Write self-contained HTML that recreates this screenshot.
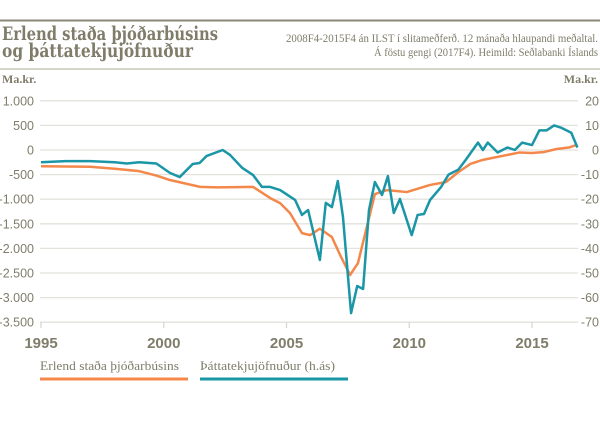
<!DOCTYPE html>
<html><head><meta charset="utf-8"><style>
body{margin:0;background:#fff;}
svg{display:block;font-family:"Liberation Sans",sans-serif;}
</style></head><body>
<svg id="c" width="600" height="437" viewBox="0 0 600 437">
<line x1="0" y1="20.5" x2="600" y2="20.5" stroke="#8a8878" stroke-width="2"/>
<text x="2" y="40" font-family="DejaVu Serif,serif" font-weight="bold" font-size="19" fill="#7f7d6a" textLength="216" lengthAdjust="spacingAndGlyphs">Erlend staða þjóðarbúsins</text>
<text x="2" y="57" font-family="DejaVu Serif,serif" font-weight="bold" font-size="19" fill="#7f7d6a" textLength="191" lengthAdjust="spacingAndGlyphs">og þáttatekjujöfnuður</text>
<text x="598" y="42" text-anchor="end" font-family="Liberation Serif,serif" font-size="11.5" fill="#7f7d6a" textLength="312" lengthAdjust="spacingAndGlyphs">2008F4-2015F4 án ILST í slitameðferð. 12 mánaða hlaupandi meðaltal.</text>
<text x="598" y="56" text-anchor="end" font-family="Liberation Serif,serif" font-size="11.5" fill="#7f7d6a" textLength="224" lengthAdjust="spacingAndGlyphs">Á föstu gengi (2017F4). Heimild: Seðlabanki Íslands</text>
<line x1="0" y1="69" x2="600" y2="69" stroke="#c9c7bb" stroke-width="1.5"/>
<text x="2" y="83" font-family="Liberation Serif,serif" font-weight="bold" font-size="12" fill="#7f7d6a">Ma.kr.</text>
<text x="598" y="83" text-anchor="end" font-family="Liberation Serif,serif" font-weight="bold" font-size="12" fill="#7f7d6a">Ma.kr.</text>
<g id="grid"></g><g id="series"></g>
<line x1="40" y1="379" x2="188" y2="379" stroke="#f4884b" stroke-width="3"/>
<text x="40" y="370" font-family="Liberation Serif,serif" font-size="12.5" fill="#7f7d6a" textLength="139" lengthAdjust="spacingAndGlyphs">Erlend staða þjóðarbúsins</text>
<line x1="200" y1="379" x2="348" y2="379" stroke="#1a96a6" stroke-width="3"/>
<text x="200" y="370" font-family="Liberation Serif,serif" font-size="12.5" fill="#7f7d6a" textLength="135" lengthAdjust="spacingAndGlyphs">Þáttatekjujöfnuður (h.ás)</text>
</svg>
<script>
const leftTicks=[1000,500,0,-500,-1000,-1500,-2000,-2500,-3000,-3500];
const leftLabels=["1.000","500","0","-500","-1.000","-1.500","-2.000","-2.500","-3.000","-3.500"];
const rightLabels=["20","10","0","-10","-20","-30","-40","-50","-60","-70"];
const xTicks=[1995,2000,2005,2010,2015];
const posYears=[1995,1997,1998,1999,1999.7,2000.25,2001.48,2002.2,2003.64,2004.33,2004.74,2005.14,2005.63,2005.96,2006.36,2006.85,2007.18,2007.59,2007.91,2008.6,2009.09,2009.9,2010.85,2011.5,2012,2012.5,2013,2013.5,2014,2014.5,2015,2015.5,2016,2016.5,2016.8];
const posValues=[-330,-340,-380,-430,-520,-610,-750,-760,-750,-975,-1080,-1280,-1690,-1730,-1600,-1770,-2130,-2540,-2300,-895,-815,-855,-710,-650,-450,-280,-200,-150,-100,-50,-60,-40,20,50,100];
const incYears=[1995,1996,1997,1998,1998.5,1999,1999.7,2000.25,2000.65,2001.18,2001.46,2001.75,2002.4,2002.7,2003.2,2003.64,2004.0,2004.33,2004.74,2005.35,2005.63,2005.88,2006.36,2006.6,2006.85,2007.09,2007.3,2007.63,2007.88,2008.12,2008.36,2008.6,2008.89,2009.13,2009.37,2009.62,2010.1,2010.34,2010.6,2010.85,2011.3,2011.6,2012,2012.3,2012.8,2013,2013.2,2013.6,2014,2014.3,2014.6,2015,2015.3,2015.6,2015.9,2016.2,2016.6,2016.85];
const incValues=[-5,-4.5,-4.5,-5,-5.5,-5,-5.5,-9.3,-11,-5.7,-5.3,-2.4,0,-2,-7.3,-10.2,-15,-15,-16.3,-20.3,-26.4,-24.4,-44.7,-21.5,-23.2,-12.6,-27.2,-66.3,-55.3,-56.5,-24.4,-13,-18.3,-10.6,-25.6,-19.9,-34.6,-26.4,-26,-20.3,-15,-10,-8,-4,3,0,3,-1,1,0,3,2,8,8,10,9,7,1];
const NS="http://www.w3.org/2000/svg";
const xS=y=>41+(y-1995)*24.55;
const yL=v=>150-v*24.6/500;
const yR=v=>yL(v*50);
const grid=document.getElementById('grid'),ser=document.getElementById('series');
function mk(tag,at,parent){const e=document.createElementNS(NS,tag);for(const k in at)e.setAttribute(k,at[k]);parent.appendChild(e);return e;}
leftTicks.forEach((t,i)=>{
  const y=yL(t);
  const g=mk('line',{x1:40,x2:578,y1:y,y2:y,stroke:'#e3e2dc','stroke-width':1.3},grid);
  
  
  const a=mk('text',{x:34,y:y+4.5,'text-anchor':'end','font-size':12.5,fill:'#7f7d6a'},grid);a.textContent=leftLabels[i];
  
  
  const b=mk('text',{x:599,y:y+4.5,'text-anchor':'end','font-size':12.5,fill:'#7f7d6a'},grid);b.textContent=rightLabels[i];
  
  
});
xTicks.forEach(t=>{
  const x=xS(t);
  const l=mk('line',{x1:x,x2:x,y1:322,y2:328,stroke:'#d8d7cf','stroke-width':1.3},grid);
  
  
  const tx=mk('text',{x:x,y:348,'text-anchor':'middle','font-size':15,'font-weight':'bold',fill:'#7f7d6a'},grid);tx.textContent=t;
  
  
});
const p1=mk('polyline',{points:posYears.map((y,i)=>xS(y)+','+yL(posValues[i])).join(' '),fill:'none',stroke:'#f4884b','stroke-width':2.5,'stroke-linejoin':'round'},ser);


const p2=mk('polyline',{points:incYears.map((y,i)=>xS(y)+','+yR(incValues[i])).join(' '),fill:'none',stroke:'#1a96a6','stroke-width':2.5,'stroke-linejoin':'round'},ser);


</script>
</body></html>
